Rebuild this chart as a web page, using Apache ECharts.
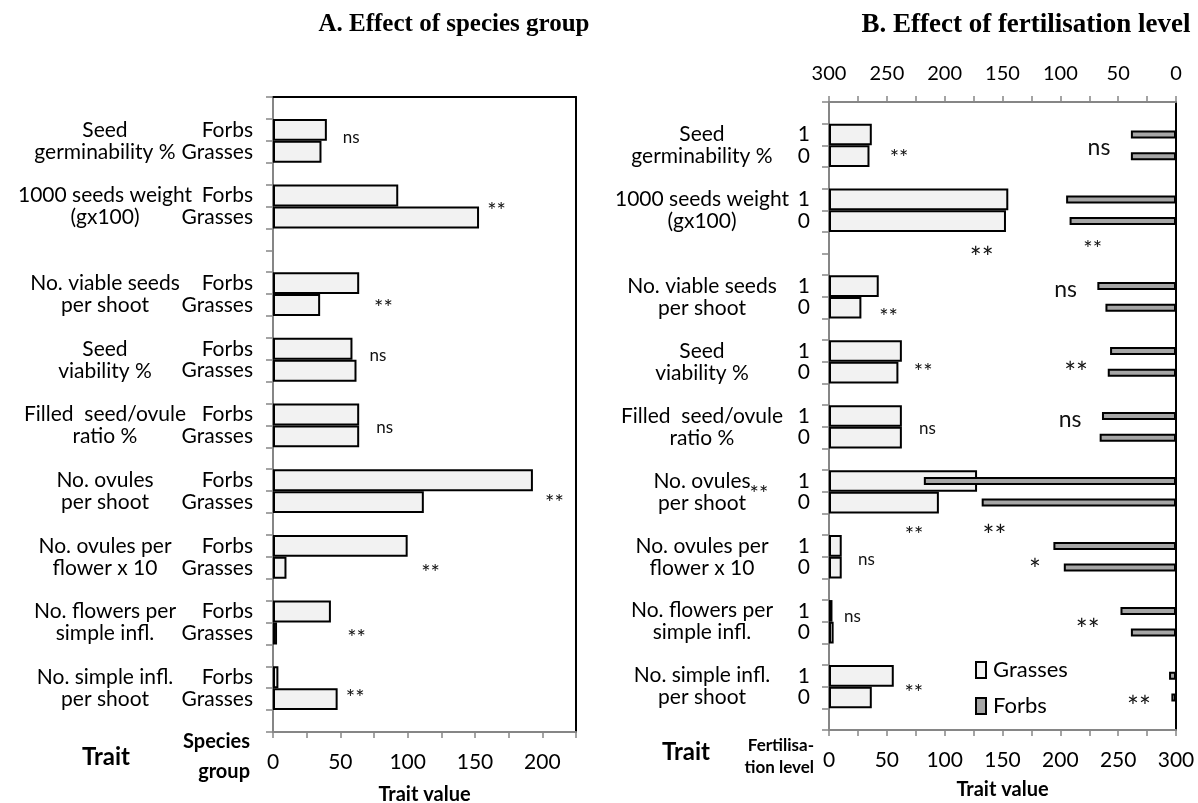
<!DOCTYPE html>
<html><head><meta charset="utf-8">
<script src="https://cdn.jsdelivr.net/npm/echarts@6/dist/echarts.min.js"></script>
<style>html,body{margin:0;padding:0;background:#fff}#c{width:1198px;height:803px}</style>
</head><body><div id="c"></div>
<script>
// ---------- data ----------
const traits = [
  "Seed\ngerminability %",
  "1000 seeds weight\n(gx100)",
  "No. viable seeds\nper shoot",
  "Seed\nviability %",
  "Filled  seed/ovule\nratio %",
  "No. ovules\nper shoot",
  "No. ovules per\nflower x 10",
  "No. flowers per\nsimple infl.",
  "No. simple infl.\nper shoot"
];
// first category slot of each trait (blank slots separate traits)
const slotFirst = [1, 4, 8, 11, 14, 17, 20, 23, 26];
const N_SLOTS = 29;
const groupsA = ["Forbs", "Grasses"];
const levelsB = ["1", "0"];

// Panel A: effect of species group
const forbsA   = [40, 93, 64, 59, 64, 193, 100, 43, 4];
const grassesA = [36, 153, 35, 62, 64, 112, 10, 3, 48];

// Panel B: effect of fertilisation level (1 / 0)
const grassB1 = [37, 155, 43, 63, 63, 128, 11, 3, 56];
const grassB0 = [35, 153, 28, 60, 63, 95, 11, 4, 37];
const forbB1  = [39, 95, 68, 57, 64, 218, 106, 48, 6];
const forbB0  = [39, 92, 61, 59, 66, 168, 97, 39, 4];

const axisMaxA = 225, axisMaxB = 300, tickStep = 25, labelStep = 50;

// significance marks: [value, slot position, text]
const annotA = [
  [58, 1.34, "ns"], [166, 4.49, "**"], [82, 8.92, "**"], [78, 11.3, "ns"],
  [83, 14.58, "ns"], [209, 17.8, "**"], [117, 21.0, "**"], [62, 24.0, "**"], [61, 26.7, "**"]
];
const annotBGrass = [
  [60.6, 1.84, "**"], [228, 6.07, "**"], [51.5, 9.19, "**"], [81.4, 11.76, "**"],
  [85, 14.57, "ns"], [-60.6, 17.39, "**"], [73.5, 19.27, "**"], [32.4, 20.65, "ns"],
  [20.2, 23.27, "ns"], [73.3, 26.57, "**"]
];
const annotBForb = [
  [66.6, 1.6, "ns"], [168, 6.47, "**"], [95.5, 8.16, "ns"], [86.4, 11.76, "**"],
  [91.5, 14.16, "ns"], [157, 19.3, "**"], [122, 20.88, "*"], [76.3, 23.62, "**"], [32, 27.2, "**"]
];

// ---------- build ----------
const FONT = "Lato";
const GRAY = "#868686";
const slotIds = Array.from({length: N_SLOTS}, (_, i) => "s" + i);
const labA = Array(N_SLOTS).fill(""), labB = Array(N_SLOTS).fill("");
const dA = Array(N_SLOTS).fill("-"), dBG = Array(N_SLOTS).fill("-"), dBF = Array(N_SLOTS).fill("-");
traits.forEach((t, i) => {
  const s = slotFirst[i];
  labA[s] = groupsA[0]; labA[s + 1] = groupsA[1];
  labB[s] = levelsB[0]; labB[s + 1] = levelsB[1];
  dA[s] = forbsA[i]; dA[s + 1] = grassesA[i];
  dBG[s] = grassB1[i]; dBG[s + 1] = grassB0[i];
  dBF[s] = forbB1[i]; dBF[s + 1] = forbB0[i];
});

function slotY(api, k) {
  const a = Math.floor(k);
  const y0 = api.coord([0, a])[1], y1 = api.coord([0, a + 1])[1];
  return y0 + (k - a) * (y1 - y0);
}
const tickFmt = v => (v % labelStep === 0 ? String(v) : "");

function valAxis(grid, max, pos, opts) {
  return Object.assign({
    type: "value", gridIndex: grid, min: 0, max: max, interval: tickStep, position: pos,
    splitLine: {show: false},
    axisLine: {show: true, onZero: false, lineStyle: {color: GRAY, width: 2}},
    axisTick: {show: true, length: 6, lineStyle: {color: GRAY, width: 1.5}},
    axisLabel: {formatter: tickFmt, color: "#000", fontFamily: FONT, fontSize: 21, margin: 20}
  }, opts || {});
}
function borderXAxis(grid, max) {
  return {type: "value", gridIndex: grid, min: 0, max: max, position: "top", splitLine: {show: false},
    axisLine: {show: true, onZero: false, lineStyle: {color: "#000", width: 2}},
    axisTick: {show: false}, axisLabel: {show: false}};
}
function catAxis(grid, labels, margin) {
  return {type: "category", gridIndex: grid, data: slotIds, inverse: true, position: "left",
    axisLine: {show: true, onZero: false, lineStyle: {color: GRAY, width: 2}},
    axisTick: {show: true, interval: 0, length: 7, lineStyle: {color: GRAY, width: 1.5}},
    axisLabel: {interval: 0, margin: margin, formatter: (v, i) => labels[i],
      color: "#000", fontFamily: FONT, fontSize: 21}};
}
function rightAxis(grid) {
  return {type: "category", gridIndex: grid, data: slotIds, inverse: true, position: "right",
    axisLine: {show: true, onZero: false, lineStyle: {color: "#000", width: 2}},
    axisTick: {show: false}, axisLabel: {show: false}};
}
function traitSeries(xi, yi, offset) {
  return {type: "custom", xAxisIndex: xi, yAxisIndex: yi, clip: false, silent: true, z: 5,
    data: traits.map((t, i) => [0, slotFirst[i]]),
    renderItem: (p, api) => {
      const s = slotFirst[p.dataIndex];
      return {type: "text", x: api.coord([0, s])[0] - offset, y: slotY(api, s + 0.5),
        style: {text: traits[p.dataIndex], fill: "#000", fontFamily: FONT, fontSize: 21,
          lineHeight: 22, align: "center", verticalAlign: "middle"}};
    }};
}
function annotSeries(list, xi, yi, size, starSize) {
  return {type: "custom", xAxisIndex: xi, yAxisIndex: yi, clip: false, silent: true, z: 6,
    data: list.map(a => [a[0], Math.floor(a[1])]),
    renderItem: (p, api) => {
      const a = list[p.dataIndex];
      const star = a[2].indexOf("*") >= 0;
      const fs = star ? starSize : size;
      return {type: "text", x: api.coord([a[0], 0])[0], y: slotY(api, a[1]) + (star ? fs * 0.22 : 0),
        style: {text: a[2], fill: "#111", fontFamily: FONT, fontSize: fs,
          align: "center", verticalAlign: "middle"}};
    }};
}
const barStyleLight = {color: "#f2f2f2", borderColor: "#000", borderWidth: 2};
const barStyleDark = {color: "#a6a6a6", borderColor: "#000", borderWidth: 2};

const option = {
  backgroundColor: "#fff",
  animation: false,
  grid: [
    {left: 273, top: 97, width: 303, height: 635, outerBoundsMode: "none", containLabel: false},
    {left: 829, top: 102, width: 347, height: 628, outerBoundsMode: "none", containLabel: false}
  ],
  xAxis: [
    valAxis(0, axisMaxA, "bottom", {name: "Trait value", nameLocation: "middle", nameGap: 53,
      nameTextStyle: {fontFamily: FONT, fontWeight: "bold", fontSize: 20, color: "#000"}}),
    borderXAxis(0, axisMaxA),
    valAxis(1, axisMaxB, "bottom", {name: "Trait value", nameLocation: "middle", nameGap: 50,
      nameTextStyle: {fontFamily: FONT, fontWeight: "bold", fontSize: 20, color: "#000"}}),
    valAxis(1, axisMaxB, "top", {inverse: true,
      axisLabel: {formatter: tickFmt, color: "#000", fontFamily: FONT, fontSize: 20, margin: 18}})
  ],
  yAxis: [
    catAxis(0, labA, 20), rightAxis(0),
    catAxis(1, labB, 19), rightAxis(1)
  ],
  legend: {
    data: ["Grasses", "Forbs"], orient: "vertical", left: 970, top: 654,
    icon: "rect", itemWidth: 10, itemHeight: 16, itemGap: 14,
    itemStyle: {borderColor: "#000", borderWidth: 2},
    textStyle: {fontFamily: FONT, fontSize: 22, color: "#000", padding: [0, 0, 0, 2]}
  },
  series: [
    {name: "Species group", type: "bar", xAxisIndex: 0, yAxisIndex: 0, data: dA,
      barCategoryGap: "0%", itemStyle: barStyleLight, z: 3},
    {name: "Grasses", type: "bar", xAxisIndex: 2, yAxisIndex: 2, data: dBG,
      barCategoryGap: "0%", itemStyle: barStyleLight, z: 3},
    {name: "Forbs", type: "bar", xAxisIndex: 3, yAxisIndex: 3, data: dBF,
      barWidth: 8, itemStyle: barStyleDark, z: 4},
    traitSeries(0, 0, 168),
    traitSeries(2, 2, 127),
    annotSeries(annotA, 0, 0, 17, 22),
    annotSeries(annotBGrass, 2, 2, 17, 22),
    annotSeries(annotBForb, 3, 3, 23, 28)
  ],
  graphic: [
    {type: "text", x: 454, y: 25, style: {text: "A. Effect of species group", fill: "#000",
      fontFamily: "Liberation Serif", fontWeight: "bold", fontSize: 25, align: "center", verticalAlign: "middle"}},
    {type: "text", x: 1026, y: 25, style: {text: "B. Effect of fertilisation level", fill: "#000",
      fontFamily: "Liberation Serif", fontWeight: "bold", fontSize: 27, align: "center", verticalAlign: "middle"}},
    {type: "text", x: 106, y: 757, style: {text: "Trait", fill: "#000", fontFamily: FONT,
      fontWeight: "bold", fontSize: 24, align: "center", verticalAlign: "middle"}},
    {type: "text", x: 250, y: 757, style: {text: "Species\ngroup", fill: "#000", fontFamily: FONT,
      fontWeight: "bold", fontSize: 20, lineHeight: 30, align: "right", verticalAlign: "middle"}},
    {type: "text", x: 686, y: 752, style: {text: "Trait", fill: "#000", fontFamily: FONT,
      fontWeight: "bold", fontSize: 24, align: "center", verticalAlign: "middle"}},
    {type: "text", x: 814, y: 757, style: {text: "Fertilisa-\ntion level", fill: "#000", fontFamily: FONT,
      fontWeight: "bold", fontSize: 17, lineHeight: 22, align: "right", verticalAlign: "middle"}}
  ]
};
const chart = echarts.init(document.getElementById("c"), null, {renderer: "canvas", width: 1198, height: 803});
chart.setOption(option);
</script>
</body></html>
